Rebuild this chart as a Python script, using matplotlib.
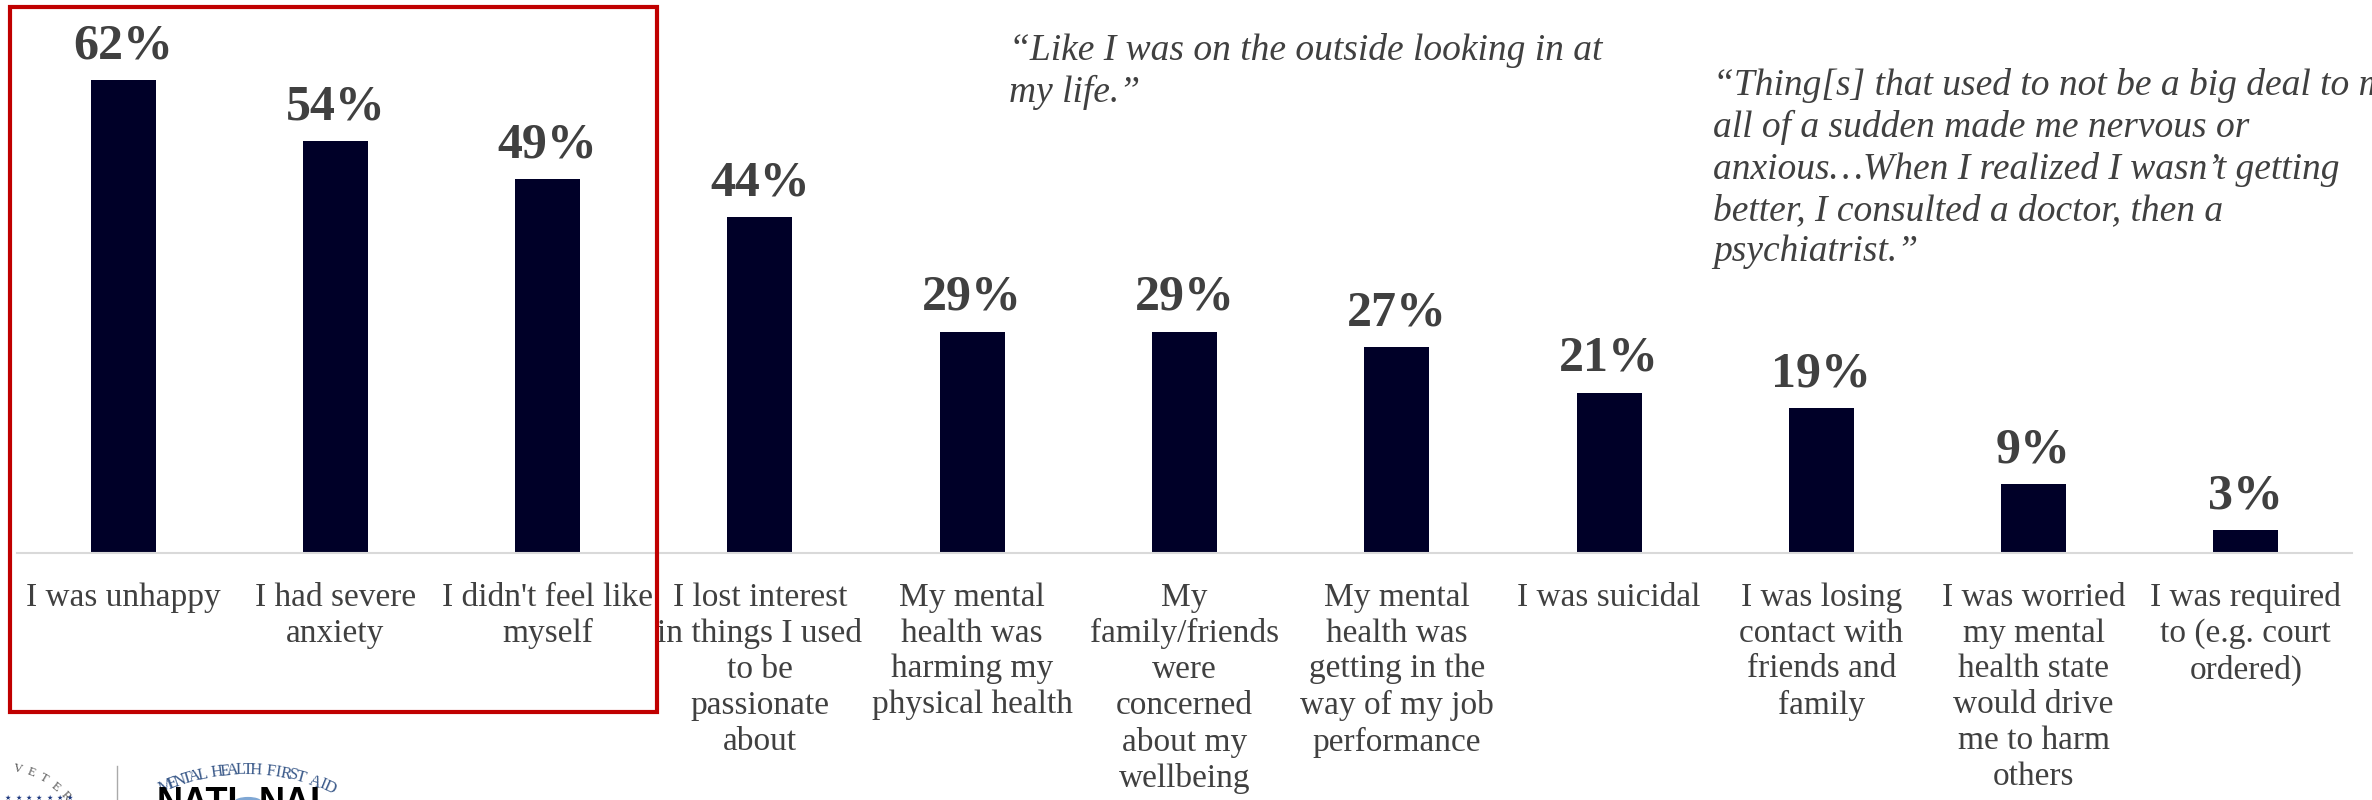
import matplotlib.pyplot as plt
import numpy as np
from matplotlib.patches import Rectangle, Circle

categories = [
    "I was unhappy",
    "I had severe\nanxiety",
    "I didn't feel like\nmyself",
    "I lost interest\nin things I used\nto be\npassionate\nabout",
    "My mental\nhealth was\nharming my\nphysical health",
    "My\nfamily/friends\nwere\nconcerned\nabout my\nwellbeing",
    "My mental\nhealth was\ngetting in the\nway of my job\nperformance",
    "I was suicidal",
    "I was losing\ncontact with\nfriends and\nfamily",
    "I was worried\nmy mental\nhealth state\nwould drive\nme to harm\nothers",
    "I was required\nto (e.g. court\nordered)",
]
values = [62, 54, 49, 44, 29, 29, 27, 21, 19, 9, 3]

quote_1 = "\u201cLike I was on the outside looking in at\nmy life.\u201d"
quote_2 = ("\u201cThing[s] that used to not be a big deal to me\n"
           "all of a sudden made me nervous or\n"
           "anxious\u2026When I realized I wasn\u2019t getting\n"
           "better, I consulted a doctor, then a\n"
           "psychiatrist.\u201d")

W, H = 2372, 800
BAR = "#000028"
TXT = "#404040"
SERIF = ["Liberation Serif", "DejaVu Serif"]

fig = plt.figure(figsize=(W / 100, H / 100), dpi=100, facecolor="white")

# axes placed in pixel terms: baseline at y=553, x from 17 to 2352
ax = fig.add_axes([17 / W, (H - 553) / H, 2335 / W, 534 / H])
x = np.arange(len(values))
ax.bar(x, values, width=0.306, color=BAR)
ax.set_xlim(-0.5, len(values) - 0.5)
ax.set_ylim(0, 70)

for xi, v in zip(x, values):
    ax.annotate(f"{v}%", xy=(xi, v), xytext=(0, 22), textcoords="offset pixels",
                ha="center", va="baseline", fontsize=36, fontweight="bold",
                color=TXT, family=SERIF)

ax.set_xticks(x)
ax.set_xticklabels(categories, fontsize=24, color=TXT, family=SERIF,
                   linespacing=1.23, va="top")
ax.tick_params(axis="x", length=0, pad=21)
ax.set_yticks([])
for side in ["top", "left", "right"]:
    ax.spines[side].set_visible(False)
ax.spines["bottom"].set_color("#d9d9d9")
ax.spines["bottom"].set_linewidth(1.5)

# quotes
fig.text(1009 / W, 1 - 33 / H, quote_1, ha="left", va="top", fontsize=27,
         style="italic", color=TXT, family=SERIF, linespacing=1.24)
fig.text(1713 / W, 1 - 68 / H, quote_2, ha="left", va="top", fontsize=27,
         style="italic", color=TXT, family=SERIF, linespacing=1.25)

# red highlight box around the first three bars
fig.add_artist(Rectangle((10 / W, 1 - 712 / H), 647 / W, 705 / H,
                         transform=fig.transFigure, fill=False,
                         ec="#c00000", lw=3))

# partial logos at the bottom left
cx, cy, r = 0, 855, 88
for letter, ang in zip("VETER", np.linspace(12, 48, 5)):
    t = np.radians(ang)
    fig.text((cx + r * np.sin(t)) / W, 1 - (cy - r * np.cos(t)) / H, letter,
             ha="center", va="center", fontsize=9, rotation=-ang,
             color="#555555", family=SERIF)
for sx in np.linspace(8, 70, 7):
    fig.text(sx / W, 1 - 798 / H, "\u2605", ha="center", va="center",
             fontsize=5, color="#1f3a80")
fig.add_artist(plt.Line2D([117 / W, 117 / W], [0, 1 - 766 / H],
                          transform=fig.transFigure, color="#aaaaaa", lw=1))

cx, cy, r = 246, 975, 205
mhfa = "MENTAL HEALTH FIRST AID"
for letter, ang in zip(mhfa, np.linspace(-23, 24, len(mhfa))):
    t = np.radians(ang)
    fig.text((cx + r * np.sin(t)) / W, 1 - (cy - r * np.cos(t)) / H, letter,
             ha="center", va="center", fontsize=12, rotation=-ang,
             color="#3b5a8a", family=SERIF)
fig.text(238 / W, 1 - 786 / H, "NATI", ha="right", va="top", fontsize=26,
         fontweight="bold", color="black", family=["Liberation Sans"])
fig.add_artist(Circle((248 / W, 1 - 802 / H), 13 / W, transform=fig.transFigure,
                      color="#7fa7d4"))
fig.text(259 / W, 1 - 786 / H, "NAL", ha="left", va="top", fontsize=26,
         fontweight="bold", color="black", family=["Liberation Sans"])

fig.savefig("out.png", dpi=100, facecolor="white")
